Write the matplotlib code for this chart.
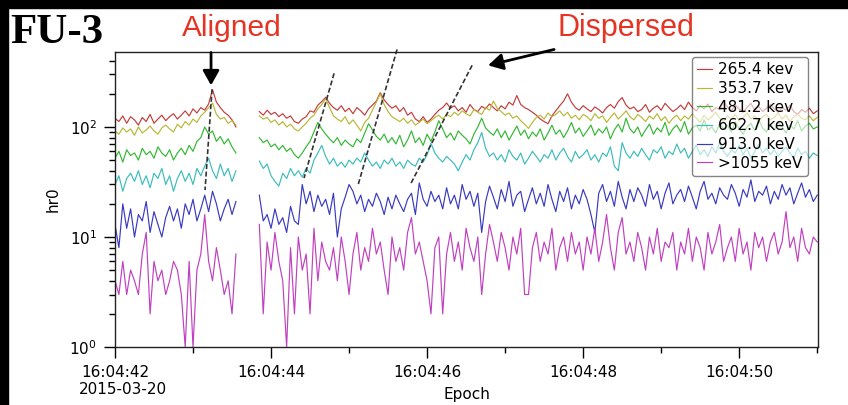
import numpy as np
import matplotlib
matplotlib.use("Agg")
import matplotlib.pyplot as plt
from matplotlib.patches import Rectangle
from matplotlib.ticker import MultipleLocator, FuncFormatter

# Epoch in seconds after 16:04:00 (2015-03-20), 50 ms cadence, gap between segments
seg1_start = 42.00
seg2_start = 43.85
cadence = 0.05

labels = ["265.4 kev", "353.7 kev", "481.2 kev", "662.7 kev", "913.0 keV", ">1055 keV"]
colors = ["#c43c3c", "#b8b838", "#33b833", "#3cbcbc", "#3a3ac0", "#c040c0"]

# hr0 counts, first segment (before the gap)
red_seg1 = [120, 112, 126, 108, 124, 116, 104, 122, 112, 130, 108, 118, 128, 114, 124, 132,
            118, 128, 140, 126, 146, 134, 150, 142, 162, 218, 168, 150, 136, 128, 116, 100]
yellow_seg1 = [92, 86, 98, 90, 96, 84, 100, 88, 94, 102, 92, 86, 98, 104, 96, 90,
               106, 98, 112, 104, 118, 110, 126, 136, 150, 165, 130, 118, 122, 108, 114, 104]
green_seg1 = [52, 60, 48, 62, 55, 58, 50, 64, 56, 60, 52, 66, 58, 54, 62, 50,
              58, 64, 56, 68, 60, 74, 80, 100, 86, 92, 74, 82, 70, 78, 66, 58]
cyan_seg1 = [30, 36, 26, 34, 38, 32, 40, 30, 36, 28, 38, 34, 42, 30, 36, 26,
             34, 40, 32, 38, 30, 42, 36, 44, 52, 40, 34, 46, 36, 42, 32, 40]
blue_seg1 = [13, 8, 20, 12, 18, 10, 16, 14, 21, 11, 17, 13, 10, 15, 19, 14,
             18, 12, 20, 16, 22, 14, 18, 24, 17, 26, 20, 14, 18, 22, 16, 21]
magenta_seg1 = [4, 3, 6, 3, 5, 4, 3, 7, 11, 2, 6, 4, 5, 3, 4, 6,
                5, 3, 1, 6, 1, 5, 7, 16, 6, 4, 8, 5, 3, 4, 2, 7]

# hr0 counts, second segment (after the gap)
red_seg2 = [
    138, 128, 142, 130, 136, 124, 132, 120, 126, 112, 108, 118,
    124, 140, 136, 158, 170, 186, 164, 150, 142, 156, 138, 148,
    132, 150, 140, 128, 146, 158, 172, 205, 176, 160, 148, 156,
    138, 150, 128, 136, 118, 112, 124, 110, 118, 130, 142, 150,
    165, 148, 156, 140, 150, 136, 160, 144, 138, 154, 146, 162,
    150, 140, 156, 146, 168, 158, 193, 160, 150, 144, 136, 128,
    118, 112, 107, 126, 140, 156, 172, 200, 168, 150, 142, 156,
    146, 138, 152, 144, 134, 150, 160, 148, 170, 185, 158, 146,
    152, 138, 144, 160, 136, 148, 156, 142, 164, 150, 138, 146,
    158, 144, 168, 150, 140, 156, 146, 162, 138, 150, 144, 170,
    152, 140, 158, 146, 136, 150, 164, 142, 154, 138, 148, 160,
    146, 136, 150, 142, 158, 138, 130, 144, 136, 148, 132, 140]
yellow_seg2 = [
    126, 118, 122, 110, 116, 104, 112, 100, 106, 96, 92, 100,
    108, 120, 128, 146, 160, 181, 150, 126, 118, 112, 124, 106,
    116, 104, 92, 110, 120, 142, 168, 200, 160, 138, 124, 118,
    112, 120, 108, 116, 104, 110, 118, 107, 114, 122, 128, 118,
    130, 124, 136, 128, 140, 132, 126, 144, 136, 130, 150, 142,
    172, 148, 138, 128, 134, 120, 126, 114, 106, 97, 110, 122,
    128, 118, 134, 124, 130, 140, 126, 136, 120, 128, 116, 130,
    124, 114, 132, 120, 126, 110, 122, 134, 118, 128, 140, 124,
    116, 130, 122, 112, 126, 118, 132, 114, 124, 108, 120, 128,
    114, 126, 118, 132, 120, 110, 128, 116, 124, 136, 120, 112,
    126, 118, 130, 114, 122, 134, 118, 126, 112, 124, 130, 116,
    122, 134, 118, 128, 112, 124, 130, 120, 116, 126, 114, 122]
green_seg2 = [
    80, 72, 76, 66, 70, 62, 68, 60, 64, 56, 52, 58,
    66, 74, 90, 110, 96, 86, 78, 72, 80, 68, 76, 70,
    66, 78, 72, 88, 107, 94, 82, 76, 86, 72, 80, 70,
    84, 66, 76, 92, 72, 80, 68, 86, 74, 90, 114, 96,
    80, 88, 76, 92, 84, 78, 70, 86, 100, 120, 98, 90,
    84, 96, 80, 92, 76, 88, 102, 84, 94, 78, 90, 82,
    96, 76, 88, 104, 86, 94, 80, 92, 110, 88, 98, 82,
    92, 104, 84, 96, 88, 100, 78, 94, 106, 90, 120, 96,
    88, 100, 82, 94, 106, 86, 98, 90, 110, 84, 96, 104,
    90, 112, 86, 98, 104, 92, 116, 94, 100, 88, 108, 96,
    104, 90, 112, 96, 86, 100, 108, 92, 116, 98, 90, 106,
    94, 110, 100, 88, 104, 96, 114, 92, 102, 108, 96, 100]
cyan_seg2 = [
    49, 42, 46, 36, 32, 29, 38, 34, 42, 36, 40, 35,
    42, 38, 50, 58, 68, 54, 46, 52, 44, 48, 43, 50,
    46, 52, 48, 58, 50, 44, 48, 42, 50, 46, 52, 44,
    48, 42, 50, 46, 44, 52, 48, 56, 71, 58, 52, 48,
    54, 50, 46, 40, 48, 56, 50, 62, 72, 89, 64, 54,
    58, 50, 56, 48, 62, 54, 50, 58, 46, 52, 60, 54,
    48, 56, 52, 62, 50, 58, 64, 54, 48, 60, 52, 56,
    62, 50, 56, 48, 58, 54, 66, 44, 40, 72, 58, 52,
    60, 54, 64, 56, 50, 62, 58, 66, 52, 60, 56, 70,
    58, 64, 52, 60, 68, 56, 62, 54, 66, 58, 72, 60,
    54, 62, 58, 68, 56, 64, 52, 60, 70, 58, 64, 56,
    62, 54, 60, 66, 58, 52, 64, 56, 60, 52, 58, 55]
blue_seg2 = [
    24, 14, 16, 12, 18, 13, 15, 11, 19, 14, 13, 30,
    20, 26, 17, 24, 19, 22, 16, 25, 10, 18, 23, 30,
    26, 20, 24, 17, 22, 19, 25, 21, 16, 23, 18, 24,
    20, 17, 22, 25, 16, 31, 22, 19, 26, 21, 24, 18,
    28, 20, 24, 18, 30, 22, 26, 19, 25, 11, 21, 29,
    23, 18, 27, 21, 32, 19, 24, 26, 17, 22, 28, 20,
    25, 19, 30, 22, 17, 26, 21, 28, 18, 24, 20, 27,
    22, 16, 11, 25, 30, 21, 26, 19, 32, 23, 18, 27,
    21, 28, 24, 19, 30, 22, 26, 18, 25, 31, 20, 24,
    27, 21, 29, 23, 18, 26, 32, 22, 25, 20, 28, 24,
    22, 30, 25, 19, 27, 23, 33, 21, 26, 24, 29, 20,
    26, 22, 30, 24, 28, 20, 25, 31, 23, 27, 21, 24]
magenta_seg2 = [
    13, 2, 9, 5, 11, 6, 4, 1, 8, 2, 10, 5,
    7, 2, 12, 4, 9, 6, 5, 8, 4, 10, 6, 3,
    7, 11, 5, 8, 6, 12, 7, 9, 5, 3, 10, 6,
    8, 5, 11, 15, 7, 9, 6, 4, 2, 8, 10, 2,
    7, 11, 6, 9, 5, 12, 8, 6, 10, 3, 7, 13,
    9, 6, 11, 8, 5, 10, 7, 12, 3, 3, 8, 11,
    6, 9, 7, 12, 5, 8, 10, 6, 11, 7, 9, 5,
    10, 7, 12, 6, 9, 16, 8, 5, 11, 15, 7, 9,
    6, 11, 8, 5, 10, 7, 12, 6, 9, 8, 11, 5,
    9, 7, 12, 6, 10, 8, 5, 11, 7, 9, 13, 6,
    8, 10, 6, 12, 7, 9, 5, 11, 8, 10, 6, 9,
    11, 7, 9, 17, 8, 10, 6, 12, 8, 7, 10, 9]

seg1 = [red_seg1, yellow_seg1, green_seg1, cyan_seg1, blue_seg1, magenta_seg1]
seg2 = [red_seg2, yellow_seg2, green_seg2, cyan_seg2, blue_seg2, magenta_seg2]

# dispersion guide lines (epoch s, hr0) start -> end
guides = [
    ((43.244, 220), (43.154, 26.7)),
    ((44.808, 307), (44.423, 34.3)),
    ((45.615, 506), (45.115, 29.6)),
    ((46.577, 363), (45.795, 30.9)),
]

fig = plt.figure(figsize=(8.48, 4.05), dpi=100)
fig.patch.set_facecolor("white")
ax = fig.add_axes([0.1356, 0.1432, 0.829, 0.7284])

for s1, s2, c, lab in zip(seg1, seg2, colors, labels):
    t1 = seg1_start + cadence * np.arange(len(s1))
    t2 = seg2_start + cadence * np.arange(len(s2))
    t = np.concatenate([t1, [np.nan], t2])
    y = np.concatenate([s1, [np.nan], s2]).astype(float)
    ax.plot(t, y, color=c, lw=0.85, label=lab)

for (ta, ya), (tb, yb) in guides:
    ax.plot([ta, tb], [ya, yb], color="#333333", lw=1.2, dashes=(3, 1.5), clip_on=False)

ax.set_yscale("log")
ax.set_ylim(1, 480)
ax.set_xlim(42.0, 51.01)
ax.xaxis.set_major_locator(MultipleLocator(2))
ax.xaxis.set_minor_locator(MultipleLocator(1))
ax.xaxis.set_major_formatter(FuncFormatter(lambda x, pos: f"16:04:{int(round(x)):02d}"))
ax.tick_params(which="major", direction="out", length=8, width=1, labelsize=11, pad=5)
ax.tick_params(which="minor", direction="out", length=4, width=1)
for sp in ax.spines.values():
    sp.set_linewidth(1.0)
    sp.set_color("#222222")

ax.annotate("2015-03-20", xy=(42.0, 0), xycoords=("data", "axes fraction"),
            xytext=(-26, -25), textcoords="offset points", ha="left", va="top", fontsize=11)
ax.set_xlabel("Epoch", fontsize=11, labelpad=5)
ax.set_ylabel("hr0", fontsize=11, labelpad=6)

leg = ax.legend(loc="upper right", bbox_to_anchor=(0.986, 0.983), borderaxespad=0,
                fontsize=11, handlelength=1.0, handletextpad=0.4, labelspacing=0.24,
                borderpad=0.35, framealpha=0.6, edgecolor="#333333", fancybox=True)

# arrows
ax.annotate("", xy=(43.231, 239), xytext=(43.231, 475), annotation_clip=False,
            arrowprops=dict(arrowstyle="-|>,head_length=0.8,head_width=0.45",
                            lw=2, color="black", mutation_scale=11, shrinkA=0, shrinkB=0))
ax.annotate("", xy=(46.782, 363), xytext=(47.628, 506), annotation_clip=False,
            arrowprops=dict(arrowstyle="-|>,head_length=0.8,head_width=0.45",
                            lw=2, color="black", mutation_scale=11, shrinkA=0, shrinkB=0))

fig.text(10 / 848, 1 - 43 / 405, "FU-3", fontsize=31, fontweight="bold",
         family="Liberation Serif", va="baseline", ha="left")
fig.text(182 / 848, 1 - 36 / 405, "Aligned", fontsize=21.5, color="#e53423",
         family="Liberation Sans", va="baseline", ha="left")
fig.text(558 / 848, 1 - 36 / 405, "Dispersed", fontsize=22, color="#e53423",
         family="Liberation Sans", va="baseline", ha="left")

# black screenshot borders
fig.patches.append(Rectangle((0, 1 - 8 / 405), 1, 8 / 405, transform=fig.transFigure,
                             color="black", zorder=10))
fig.patches.append(Rectangle((0, 0), 8 / 848, 1, transform=fig.transFigure,
                             color="black", zorder=10))

fig.savefig("out.png", dpi=100)
